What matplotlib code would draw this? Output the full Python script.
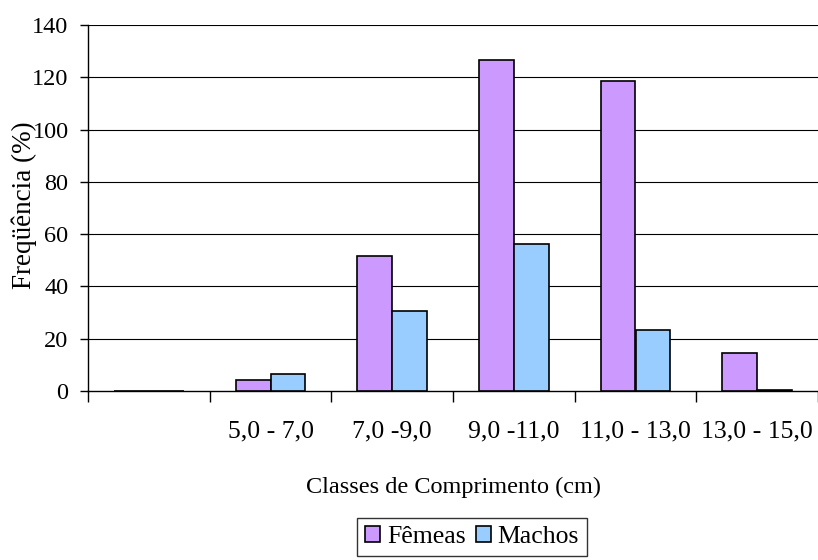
import numpy as np
import matplotlib
matplotlib.use("Agg")
import matplotlib.pyplot as plt

# comprimento classes (first class is empty in the original sheet)
classes = ["", "5,0 - 7,0", "7,0 -9,0", "9,0 -11,0", "11,0 - 13,0", "13,0 - 15,0"]
femeas = [0, 4.3, 51.5, 126.5, 118.5, 14.7]
machos = [0, 6.4, 30.6, 56.2, 23.4, 0.5]

plt.rcParams["font.family"] = ["Liberation Serif", "DejaVu Serif"]
plt.rcParams["font.size"] = 18

fig = plt.figure(figsize=(8.18, 5.60), dpi=100)
ax = fig.add_axes([88 / 818, 1 - 391 / 560, 1 - 88 / 818, (391 - 25) / 560])

x = np.arange(len(classes))
w = 1 / 3.5
ax.bar(x - w / 2, femeas, w, color="#CC99FF", edgecolor="black", linewidth=1.2,
       label="Fêmeas", zorder=3)
ax.bar(x + w / 2, machos, w, color="#99CCFF", edgecolor="black", linewidth=1.2,
       label="Machos", zorder=3)

ax.set_xlim(-0.5, len(classes) - 0.5)
ax.set_ylim(0, 140)
ax.set_yticks(np.arange(0, 141, 20))
for yv in np.arange(20, 141, 20):
    ax.axhline(yv, color="black", linewidth=0.8, zorder=1)

ax.set_xticks(x)
ax.set_xticklabels(classes, fontsize=18.5)
ax.set_xticks(np.arange(-0.5, len(classes), 1), minor=True)
ax.tick_params(axis="x", which="major", length=0, pad=21)
ax.tick_params(axis="x", which="minor", length=8, width=1, direction="out")
ax.tick_params(axis="y", length=6, width=1, direction="out", pad=8,
               labelsize=17.5)

for s in ["top", "right"]:
    ax.spines[s].set_visible(False)
ax.spines["left"].set_linewidth(1)
ax.spines["bottom"].set_linewidth(1)

fig.text(453 / 818, 1 - 487 / 560, "Classes de Comprimento (cm)",
         ha="center", va="center", fontsize=17.5)
fig.text(24 / 818, 1 - 205 / 560, "Freqüência (%)", rotation=90,
         ha="center", va="center", fontsize=19.5)

leg = fig.legend(loc="center", bbox_to_anchor=(472 / 818, 1 - 537 / 560),
                 ncol=2, frameon=True, fancybox=False, fontsize=18.5,
                 handlelength=0.58, handleheight=0.55, handletextpad=0.27,
                 columnspacing=0.4, borderpad=0.3, borderaxespad=0)
leg.get_frame().set_edgecolor("black")
leg.get_frame().set_linewidth(1)

plt.savefig("out.png", dpi=100)
